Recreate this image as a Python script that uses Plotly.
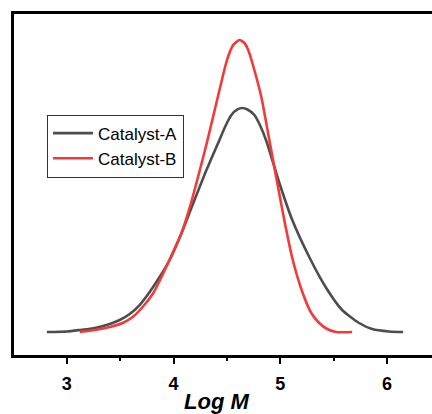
import plotly.graph_objects as go

# Catalyst-A molecular weight distribution (Log M vs normalized intensity)
logm_a = [2.813, 3.000, 3.121, 3.262, 3.402, 3.495, 3.589, 3.682, 3.776, 3.869,
          3.963, 4.075, 4.196, 4.308, 4.430, 4.486, 4.542, 4.598, 4.645, 4.692,
          4.757, 4.813, 4.869, 4.991, 5.112, 5.271, 5.430, 5.579, 5.738, 5.860,
          6.019, 6.150]
val_a = [0.0674, 0.0689, 0.0733, 0.0792, 0.0909, 0.1026, 0.1202, 0.1466, 0.1848, 0.2287,
         0.2786, 0.3578, 0.4545, 0.5425, 0.6305, 0.6716, 0.7038, 0.7200, 0.7243, 0.7200,
         0.7038, 0.6716, 0.6276, 0.5044, 0.3959, 0.2874, 0.1965, 0.1320, 0.0938, 0.0762,
         0.0689, 0.0674]

# Catalyst-B
logm_b = [3.121, 3.262, 3.402, 3.523, 3.617, 3.710, 3.804, 3.869, 3.991, 4.075,
          4.150, 4.234, 4.318, 4.430, 4.486, 4.523, 4.561, 4.617, 4.664, 4.701,
          4.738, 4.822, 4.897, 4.963, 5.037, 5.112, 5.206, 5.290, 5.364, 5.439,
          5.523, 5.673]
val_b = [0.0674, 0.0733, 0.0821, 0.0938, 0.1114, 0.1408, 0.1789, 0.2170, 0.2991, 0.3578,
         0.4311, 0.5279, 0.6305, 0.7771, 0.8490, 0.8856, 0.9100, 0.9238, 0.9150, 0.8930,
         0.8563, 0.7566, 0.6305, 0.5191, 0.3959, 0.2845, 0.1848, 0.1232, 0.0938, 0.0762,
         0.0674, 0.0674]

x_ticks = [3, 4, 5, 6]
x_title = "Log M"
names = ["Catalyst-A", "Catalyst-B"]

FONT = "Liberation Sans"

fig = go.Figure()
fig.add_trace(go.Scatter(x=logm_a, y=val_a, mode="lines", name=names[0],
                         line=dict(color="#4d4d4d", width=2.6, shape="spline", smoothing=0.6)))
fig.add_trace(go.Scatter(x=logm_b, y=val_b, mode="lines", name=names[1],
                         line=dict(color="#f23a3a", width=2.6, shape="spline", smoothing=0.6)))

fig.update_layout(
    width=432, height=414,
    margin=dict(l=14, r=0, t=14, b=59),
    paper_bgcolor="white", plot_bgcolor="white",
    font=dict(family=FONT, color="black"),
    showlegend=True,
    legend=dict(x=0.079, y=0.705, xanchor="left", yanchor="top",
                bgcolor="white", bordercolor="#333333", borderwidth=1,
                font=dict(size=17, family=FONT, color="black"),
                tracegroupgap=0, itemwidth=40),
    xaxis=dict(range=[2.505, 6.421], showgrid=False, zeroline=False,
               showline=True, linecolor="black", linewidth=3, mirror=True,
               ticks="outside", ticklen=6, tickwidth=2, tickcolor="black",
               tickvals=x_ticks, ticktext=[str(t) for t in x_ticks],
               tickfont=dict(size=18, family=FONT, color="black", weight=700),
               ticklabelstandoff=4,
               minor=dict(ticks="outside", ticklen=3, tickwidth=2, tickcolor="black",
                          dtick=0.5, tick0=0.5, showgrid=False)),
    yaxis=dict(range=[0, 1], showgrid=False, zeroline=False,
               showline=True, linecolor="black", linewidth=3, mirror=False,
               showticklabels=False, ticks=""),
)

fig.add_annotation(x=4.40, y=-0.137, xref="x", yref="paper",
                   text=x_title,
                   showarrow=False, yanchor="middle",
                   font=dict(size=22, family=FONT, color="black",
                             weight=700, style="italic"))

fig.write_html("out.html")
